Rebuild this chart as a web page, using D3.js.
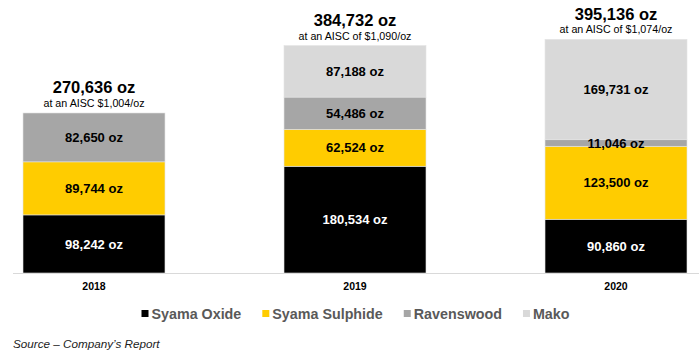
<!DOCTYPE html>
<html>
<head>
<meta charset="utf-8">
<script src="https://cdn.jsdelivr.net/npm/d3@7"></script>
<style>
  html, body { margin: 0; padding: 0; background: #fff; }
  svg { display: block; }
</style>
</head>
<body>
<svg id="chart" width="699" height="356"></svg>
<script>
const years = ["2018", "2019", "2020"];
const seriesNames = ["Syama Oxide", "Syama Sulphide", "Ravenswood", "Mako"];
const syamaOxide = [98242, 180534, 90860];
const syamaSulphide = [89744, 62524, 123500];
const ravenswood = [82650, 54486, 11046];
const mako = [0, 87188, 169731];
const totalLabels = ["270,636 oz", "384,732 oz", "395,136 oz"];
const totals = [270636, 384732, 395136];
const aiscLabels = ["at an AISC $1,004/oz", "at an AISC of $1,090/oz", "at an AISC of $1,074/oz"];
const colors = ["#000000", "#FFCC00", "#A6A6A6", "#D9D9D9"];
const sourceText = "Source \u2013 Company\u2019s Report";

const seriesValues = [syamaOxide, syamaSulphide, ravenswood, mako];
const rows = years.map((y, i) => {
  const r = { year: y };
  seriesNames.forEach((s, k) => r[s] = seriesValues[k][i]);
  return r;
});

const svg = d3.select("#chart");
const baseY = 273;
const x = d3.scaleBand().domain(years).range([23, 687]).paddingInner(0.456).paddingOuter(0);
const y = d3.scaleLinear().domain([0, 400000]).range([baseY, baseY - 236.5]);

const stack = d3.stack().keys(seriesNames);
const stacked = stack(rows);

// axis line
svg.append("line")
  .attr("x1", 13).attr("x2", 699)
  .attr("y1", baseY + 0.5).attr("y2", baseY + 0.5)
  .attr("stroke", "#d9d9d9").attr("stroke-width", 1);

const fmt = d3.format(",");

stacked.forEach((layer, k) => {
  const g = svg.append("g");
  g.selectAll("rect").data(layer).join("rect")
    .attr("x", d => x(d.data.year))
    .attr("width", x.bandwidth())
    .attr("y", d => y(d[1]))
    .attr("height", d => y(d[0]) - y(d[1]))
    .attr("fill", colors[k])
    .attr("stroke", "#e4e4e4").attr("stroke-width", 0.6);
});

stacked.forEach((layer, k) => {
  svg.append("g").selectAll("text").data(layer.filter(d => d[1] - d[0] > 0)).join("text")
    .attr("x", d => x(d.data.year) + x.bandwidth() / 2)
    .attr("y", d => (y(d[0]) + y(d[1])) / 2)
    .attr("dy", "0.36em")
    .attr("text-anchor", "middle")
    .attr("font-family", "Liberation Sans, Arial, sans-serif")
    .attr("font-weight", "bold")
    .attr("font-size", "13px")
    .attr("fill", k === 0 ? "#ffffff" : "#000000")
    .text(d => fmt(d[1] - d[0]) + " oz");
});

// totals
years.forEach((yr, i) => {
  const cx = x(yr) + x.bandwidth() / 2;
  const top = y(totals[i]);
  svg.append("text")
    .attr("x", cx).attr("y", top - 6)
    .attr("text-anchor", "middle")
    .attr("font-family", "Liberation Sans, Arial, sans-serif")
    .attr("font-size", "10.7px")
    .attr("fill", "#000")
    .text(aiscLabels[i]);
  svg.append("text")
    .attr("x", cx).attr("y", top - 19.5)
    .attr("text-anchor", "middle")
    .attr("font-family", "Liberation Sans, Arial, sans-serif")
    .attr("font-weight", "bold")
    .attr("font-size", "16.5px")
    .attr("fill", "#000")
    .text(totalLabels[i]);
});

// x axis labels
svg.append("g").selectAll("text").data(years).join("text")
  .attr("x", d => x(d) + x.bandwidth() / 2)
  .attr("y", 290)
  .attr("text-anchor", "middle")
  .attr("font-family", "Liberation Sans, Arial, sans-serif")
  .attr("font-weight", "bold")
  .attr("font-size", "10.5px")
  .attr("fill", "#000")
  .text(d => d);

// legend
const leg = svg.append("g");
const legY = 313.5;
let cursor = 0;
const items = [];
seriesNames.forEach((name, k) => {
  const gi = leg.append("g");
  gi.append("rect").attr("x", 0).attr("y", legY - 3.5).attr("width", 7).attr("height", 7).attr("fill", colors[k]);
  const t = gi.append("text").attr("x", 10).attr("y", legY).attr("dy", "0.36em")
    .attr("font-family", "Liberation Sans, Arial, sans-serif")
    .attr("font-weight", "bold")
    .attr("font-size", "14.3px")
    .attr("fill", "#595959")
    .text(name);
  const w = 10 + t.node().getComputedTextLength();
  gi.attr("transform", `translate(${cursor},0)`);
  cursor += w + 21;
  items.push(gi);
});
const legW = cursor - 21;
leg.attr("transform", `translate(${355.5 - legW / 2},0)`);

// source
svg.append("text")
  .attr("x", 13).attr("y", 348)
  .attr("font-family", "Liberation Sans, Arial, sans-serif")
  .attr("font-style", "italic")
  .attr("font-size", "11.7px")
  .attr("fill", "#222")
  .text(sourceText);
</script>
</body>
</html>
